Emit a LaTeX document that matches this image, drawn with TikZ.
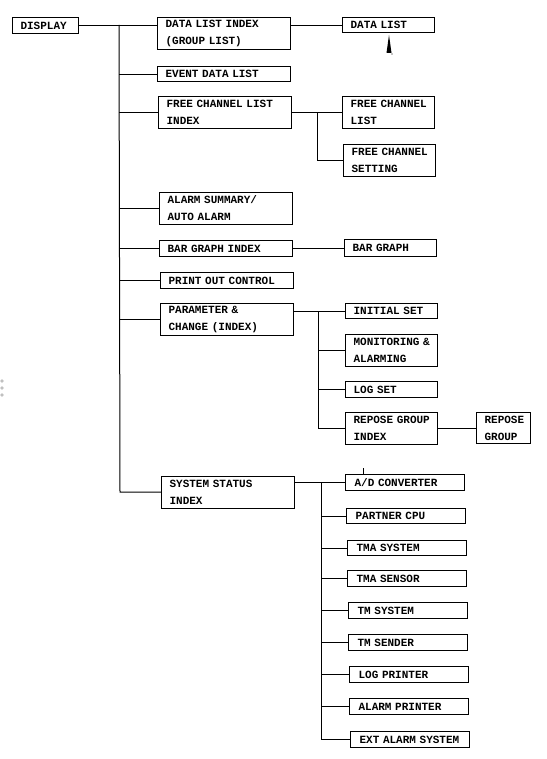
\documentclass[tikz,border=0pt]{standalone}
\usepackage{fontspec}
\setmainfont{Liberation Mono}
\usetikzlibrary{calc}
\newcommand\oneln[1]{\mbox{#1}}
\tikzset{
  bx/.style={draw, line width=1.1pt, anchor=north west, align=left,
    inner xsep=8pt, inner ysep=0pt,
    font=\fontsize{11}{17}\selectfont\bfseries},
  mainb/.style={bx, minimum width=133pt, text width=117pt},
  subb/.style={bx, minimum width=92pt, text width=76pt},
  sysb/.style={bx, minimum width=119pt, inner xsep=9pt, text width=101pt},
  rgb/.style={bx, minimum width=54pt, text width=38pt, inner xsep=8pt},
  dispb/.style={bx, minimum width=66pt, text width=50pt},
  hone/.style={minimum height=16pt},
  htwo/.style={minimum height=32pt},
  ln/.style={line width=1pt},
}
\begin{document}
\begin{tikzpicture}[x=1pt,y=-1pt]
\fill[white] (0,0) rectangle (546,759);
\useasboundingbox (0,0) rectangle (546,759);

% main column
\node[dispb,hone] (disp) at (12,17) {\oneln{DISPLAY}};
\node[mainb,htwo] (dli) at (157,17) {\oneln{DATA LIST INDEX}\\\oneln{(GROUP LIST)}};
\node[mainb,hone,minimum height=15pt] (edl) at (157,66) {\oneln{EVENT DATA LIST}};
\node[mainb,htwo] (fcli) at (158,96) {\oneln{FREE CHANNEL LIST}\\\oneln{INDEX}};
\node[mainb,htwo] (als) at (159,192) {\oneln{ALARM SUMMARY/}\\\oneln{AUTO ALARM}};
\node[mainb,hone] (bgi) at (159,240) {\oneln{BAR GRAPH INDEX}};
\node[mainb,hone] (poc) at (160,272) {\oneln{PRINT OUT CONTROL}};
\node[mainb,htwo] (pci) at (160,303) {\oneln{PARAMETER \&}\\\oneln{CHANGE (INDEX)}};
\node[mainb,htwo] (ssi) at (161,476) {\oneln{SYSTEM STATUS}\\\oneln{INDEX}};

% second column
\node[subb,hone,minimum height=15pt] (dl) at (342,17) {\oneln{DATA LIST}};
\node[subb,htwo] (fcl) at (342,96) {\oneln{FREE CHANNEL}\\\oneln{LIST}};
\node[subb,htwo] (fcs) at (343,144) {\oneln{FREE CHANNEL}\\\oneln{SETTING}};
\node[subb,hone,minimum height=17pt] (bg) at (344,239) {\oneln{BAR GRAPH}};
\node[subb,hone,minimum height=15pt] (is) at (345,303) {\oneln{INITIAL SET}};
\node[subb,htwo] (ma) at (345,334) {\oneln{MONITORING \&}\\\oneln{ALARMING}};
\node[subb,hone] (ls) at (345,381) {\oneln{LOG SET}};
\node[subb,htwo] (rgi) at (345,412) {\oneln{REPOSE GROUP}\\\oneln{INDEX}};
\node[rgb,htwo,minimum height=31pt] (rg) at (476,412) {\oneln{REPOSE}\\\oneln{GROUP}};

% system status column
\node[sysb,hone] (ad) at (345,474) {\oneln{A/D CONVERTER}};
\node[sysb,hone,minimum height=15pt] (pc) at (346,508) {\oneln{PARTNER CPU}};
\node[sysb,hone,minimum height=15pt] (tmas) at (347,540) {\oneln{TMA SYSTEM}};
\node[sysb,hone] (tmase) at (347,570) {\oneln{TMA SENSOR}};
\node[sysb,hone] (tms) at (348,602) {\oneln{TM SYSTEM}};
\node[sysb,hone] (tmsd) at (348,634) {\oneln{TM SENDER}};
\node[sysb,hone] (lp) at (349,666) {\oneln{LOG PRINTER}};
\node[sysb,hone] (ap) at (349,698) {\oneln{ALARM PRINTER}};
\node[sysb,hone] (eas) at (350,731) {\oneln{EXT ALARM SYSTEM}};

% trunk coordinates
\coordinate (ttop) at (119,25);
\coordinate (tbot) at (120,492);
\coordinate (sa) at (317,0);
\coordinate (sb) at (318,0);
\coordinate (sc) at (321,0);

% main trunk
\draw[ln] (disp.east) -- (disp.east -| dli.west);
\draw[ln] (ttop) -- (tbot) -- (tbot -| ssi.west);
\foreach \n in {edl,fcli,als,bgi,poc,pci}
  \draw[ln] (ttop |- \n.west) -- (\n.west);

% data list
\draw[ln] (dl.west -| dli.east) -- (dl.west);
% free channel
\draw[ln] (fcli.east) -- (fcli.east -| fcl.west);
\draw[ln] (fcli.east -| sa) |- (fcs.west);
% bar graph
\draw[ln] (bgi.east) -- (bgi.east -| bg.west);
% parameter
\draw[ln] (is.west -| pci.east) -- (is.west);
\draw[ln] (is.west -| sb) |- (rgi.west);
\draw[ln] (sb |- ma.west) -- (ma.west);
\draw[ln] (sb |- ls.west) -- (ls.west);
\draw[ln] (rgi.east) -- (rgi.east -| rg.west);
% system status
\draw[ln] (ad.west -| ssi.east) -- (ad.west);
\draw[ln] (ad.west -| sc) |- (eas.west);
\foreach \n in {pc,tmas,tmase,tms,tmsd,lp,ap}
  \draw[ln] (sc |- \n.west) -- (\n.west);

% small marks of the original sheet
\fill (389,35) -- (391.5,53) -- (386.5,53) -- cycle;
\fill (392,54) circle (0.6);
\draw[line width=0.6pt] (363,468) -- (363,475);
\draw[line width=0.4pt, gray] (2,381) circle (1.3) (2,388) circle (1.3) (2,395) circle (1.3);
\end{tikzpicture}
\end{document}
